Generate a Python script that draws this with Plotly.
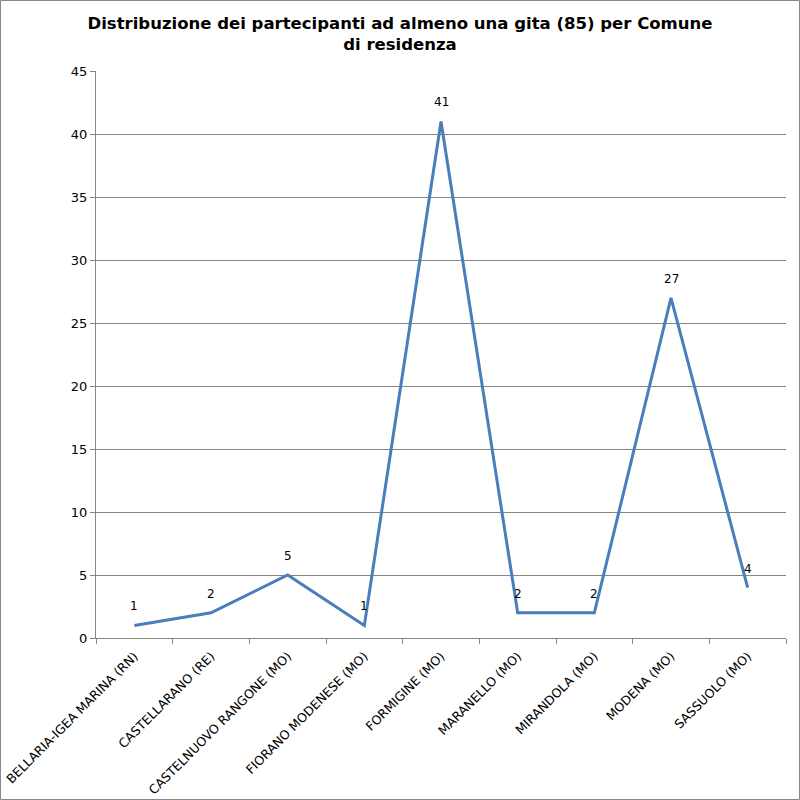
import plotly.graph_objects as go

# Dati
comuni = [
    "BELLARIA-IGEA MARINA (RN)",
    "CASTELLARANO (RE)",
    "CASTELNUOVO RANGONE (MO)",
    "FIORANO MODENESE (MO)",
    "FORMIGINE (MO)",
    "MARANELLO (MO)",
    "MIRANDOLA (MO)",
    "MODENA (MO)",
    "SASSUOLO (MO)",
]
partecipanti = [1, 2, 5, 1, 41, 2, 2, 27, 4]
y_ticks = [0, 5, 10, 15, 20, 25, 30, 35, 40, 45]

W, H = 800, 800
ML, MR, MT, MB = 96, 14, 71, 162
pw = W - ML - MR
ph = H - MT - MB

fig = go.Figure()

fig.add_trace(go.Scatter(
    x=comuni,
    y=partecipanti,
    mode='lines',
    line=dict(color='#4a7ebb', width=3),
    showlegend=False,
    hoverinfo='x+y',
))

# etichette dati sopra i punti
for c, v in zip(comuni, partecipanti):
    fig.add_annotation(
        x=c, y=v, text=str(v), showarrow=False,
        yshift=19, xanchor='center', yanchor='middle',
        font=dict(family='DejaVu Sans', size=12, color='#000000'),
    )

fig.update_layout(
    width=W,
    height=H,
    margin=dict(l=ML, r=MR, t=MT, b=MB, autoexpand=False),
    paper_bgcolor='#ffffff',
    plot_bgcolor='#ffffff',
    font=dict(family='DejaVu Sans', color='#000000', size=12),
    title=dict(
        text='<b>Distribuzione dei partecipanti ad almeno una gita (85) per Comune<br>di residenza</b>',
        x=0.5,
        xref='container',
        xanchor='center',
        yref='container',
        y=1 - 29 / H,
        yanchor='middle',
        font=dict(family='DejaVu Sans', size=16.5, color='#000000'),
    ),
    shapes=[dict(
        type='rect', xref='paper', yref='paper',
        x0=-(ML - 0.5) / pw, x1=1 + (MR - 0.5) / pw,
        y0=-(MB - 0.5) / ph, y1=1 + (MT - 0.5) / ph,
        line=dict(color='#888888', width=1),
    )],
)

fig.update_xaxes(
    type='category',
    automargin=False,
    tickangle=-45,
    showline=True,
    linecolor='#868686',
    linewidth=1,
    ticks='outside',
    ticklen=5,
    tickcolor='#868686',
    tickson='boundaries',
    ticklabelstandoff=5,
    showgrid=False,
    tickfont=dict(family='DejaVu Sans', size=12.5, color='#000000'),
    range=[-0.5, 8.5],
)

fig.update_yaxes(
    automargin=False,
    range=[0, 45],
    tickvals=y_ticks,
    showline=True,
    linecolor='#868686',
    linewidth=1,
    ticks='outside',
    ticklen=5,
    tickcolor='#868686',
    showgrid=True,
    gridcolor='#868686',
    gridwidth=1,
    zeroline=False,
    tickfont=dict(family='DejaVu Sans', size=13, color='#000000'),
)

# niente margine del body, così il grafico occupa tutta la finestra
fig.write_html(
    "out.html",
    config={'displayModeBar': False},
    post_script="document.body.style.margin='0';",
)
